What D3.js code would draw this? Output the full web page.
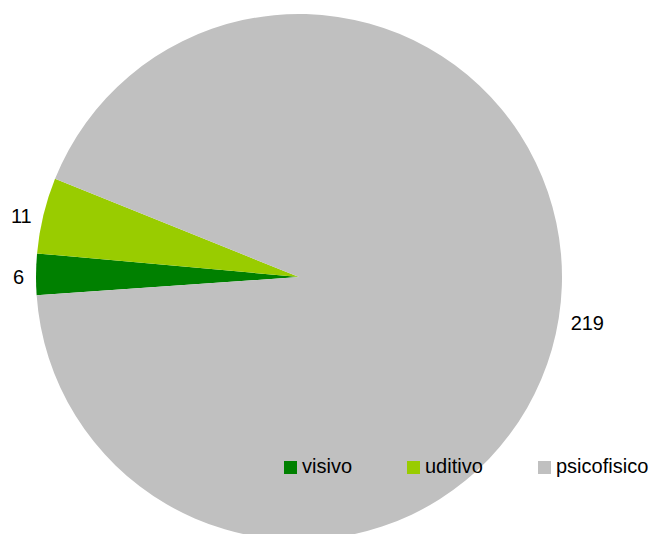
<!DOCTYPE html>
<html>
<head>
<meta charset="utf-8">
<script src="https://cdnjs.cloudflare.com/ajax/libs/d3/7.8.5/d3.min.js"></script>
<style>
  body { margin: 0; background: #fff; }
  text { font-family: "Liberation Sans", Arial, sans-serif; fill: #000; }
</style>
</head>
<body>
<div id="chart"></div>
<script>
// Data
var categories = ["visivo", "uditivo", "psicofisico"];
var values = [6, 11, 219];
var colors = ["#008000", "#99cc00", "#c0c0c0"];

var width = 652, height = 534;
var cx = 299, cy = 277, radius = 263;

var svg = d3.select("#chart")
  .append("svg")
  .attr("width", width)
  .attr("height", height);

var color = d3.scaleOrdinal()
  .domain(categories)
  .range(colors);

// first slice starts a little below 9 o'clock
var start = 266 * Math.PI / 180;
var pie = d3.pie()
  .sort(null)
  .startAngle(start)
  .endAngle(start + 2 * Math.PI)
  .value(function(d) { return d.value; });

var data = categories.map(function(c, i) { return { name: c, value: values[i] }; });
var arcs = pie(data);

var arc = d3.arc().innerRadius(0).outerRadius(radius);

var g = svg.append("g")
  .attr("transform", "translate(" + cx + "," + cy + ")");

g.selectAll("path")
  .data(arcs)
  .enter()
  .append("path")
  .attr("d", arc)
  .style("fill", function(d) { return color(d.data.name); });

// value labels outside the pie
var labelR = radius + 12;
g.selectAll("text.lbl")
  .data(arcs)
  .enter()
  .append("text")
  .attr("class", "lbl")
  .attr("x", function(d) {
    var a = (d.startAngle + d.endAngle) / 2;
    return labelR * Math.sin(a);
  })
  .attr("y", function(d) {
    var a = (d.startAngle + d.endAngle) / 2;
    return -labelR * Math.cos(a) + 3;
  })
  .attr("dy", "0.35em")
  .style("font-size", "20px")
  .style("text-anchor", function(d) {
    var a = (d.startAngle + d.endAngle) / 2;
    return Math.sin(a) < 0 ? "end" : "start";
  })
  .text(function(d) { return d.data.value; });

// legend
var legendX = d3.scalePoint()
  .domain(categories)
  .range([284, 538]);

var legend = svg.selectAll(".legend")
  .data(categories)
  .enter()
  .append("g")
  .attr("class", "legend")
  .attr("transform", function(d) {
    var x = d === "uditivo" ? 407 : legendX(d);
    return "translate(" + x + ",461)";
  });

legend.append("rect")
  .attr("width", 13)
  .attr("height", 13)
  .style("fill", color);

legend.append("text")
  .attr("x", 18)
  .attr("y", 12)
  .style("font-size", "20px")
  .text(function(d) { return d; });
</script>
</body>
</html>
